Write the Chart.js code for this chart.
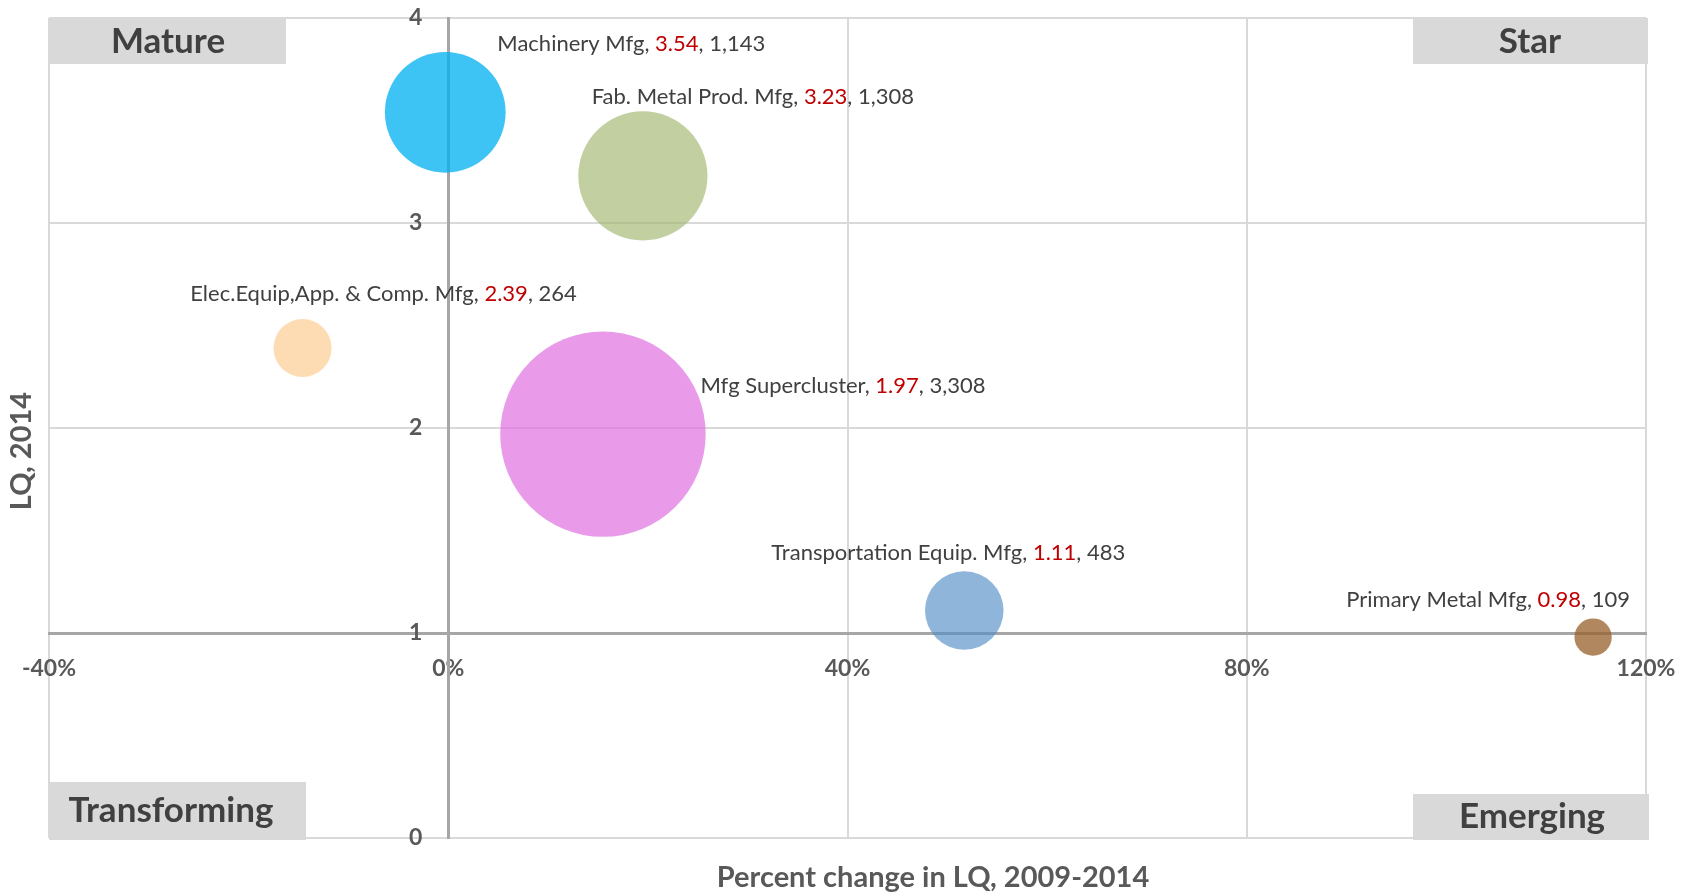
<!DOCTYPE html>
<html>
<head>
<meta charset="utf-8">
<script src="https://cdn.jsdelivr.net/npm/chart.js@4.4.1/dist/chart.umd.min.js"></script>
<style>
    html, body { margin: 0; padding: 0; background: #fff; }
    #wrap { width: 1696px; height: 893px; position: relative; }
</style>
</head>
<body>
<div id="wrap"><canvas id="lqChart"></canvas></div>
<script>
const industries = ['Machinery Mfg', 'Fab. Metal Prod. Mfg', 'Elec.Equip,App. & Comp. Mfg', 'Mfg Supercluster', 'Transportation Equip. Mfg', 'Primary Metal Mfg'];
const pctChange = [-0.3, 19.5, -14.6, 15.5, 51.7, 114.7];
const lq2014 = [3.54, 3.23, 2.39, 1.97, 1.11, 0.98];
const employment = [1143, 1308, 264, 3308, 483, 109];
const xTickValues = [-40, 0, 40, 80, 120];
const yTickValues = [0, 1, 2, 3, 4];
const quadrants = ['Mature', 'Star', 'Transforming', 'Emerging'];

const FONT = 'Lato';
const bubbleColors = [
    'rgba(0,176,240,0.76)',
    'rgba(160,181,110,0.65)',
    'rgba(252,196,128,0.6)',
    'rgba(224,112,224,0.7)',
    'rgba(85,142,199,0.65)',
    'rgba(150,95,40,0.75)'
];
const bubbleScale = 1.786;
// label centre offset from bubble centre, px
const labelOffsets = [[186, -68], [110, -79], [81, -54], [240, -48], [-16, -58], [-105, -37]];

const fmt = n => n.toLocaleString('en-US');

(()=>{
    const quadrantPlugin = {
        id: 'quadrants',
        beforeDatasetsDraw(chart) {
            const {ctx, chartArea: ca} = chart;
            const boxes = [
                {x: ca.left, y: ca.top, w: 237, h: 46, tx: ca.left + 119, ty: ca.top + 24},
                {x: ca.right + 2 - 235, y: ca.top, w: 235, h: 46, tx: ca.right - 116, ty: ca.top + 24},
                {x: ca.left, y: ca.bottom + 2 - 58, w: 257, h: 58, tx: ca.left + 122, ty: ca.bottom - 27},
                {x: ca.right + 3 - 236, y: ca.bottom + 2 - 46, w: 236, h: 46, tx: ca.right - 114, ty: ca.bottom - 21}
            ];
            ctx.save();
            ctx.font = 'bold 35px ' + FONT;
            ctx.textAlign = 'center';
            ctx.textBaseline = 'middle';
            boxes.forEach((b, i) => {
                ctx.fillStyle = '#d9d9d9';
                ctx.fillRect(b.x, b.y, b.w, b.h);
                ctx.fillStyle = '#404040';
                ctx.fillText(quadrants[i], b.tx, b.ty);
            });
            ctx.restore();
        },
        afterDatasetsDraw(chart) {
            const {ctx} = chart;
            const meta = chart.getDatasetMeta(0);
            ctx.save();
            ctx.font = '22px ' + FONT;
            ctx.textBaseline = 'middle';
            ctx.textAlign = 'left';
            meta.data.forEach((pt, i) => {
                const parts = [
                    [industries[i] + ', ', '#404040'],
                    [lq2014[i].toFixed(2), '#c00000'],
                    [', ' + fmt(employment[i]), '#404040']
                ];
                const total = parts.reduce((s, p) => s + ctx.measureText(p[0]).width, 0);
                let x = pt.x + labelOffsets[i][0] - total / 2;
                const y = pt.y + labelOffsets[i][1];
                parts.forEach(p => {
                    ctx.fillStyle = p[1];
                    ctx.fillText(p[0], x, y);
                    x += ctx.measureText(p[0]).width;
                });
            });
            ctx.restore();
        },
        afterDraw(chart) {
            const {ctx, chartArea: ca} = chart;
            ctx.save();
            ctx.fillStyle = '#595959';
            ctx.font = 'bold 29px ' + FONT;
            ctx.textAlign = 'center';
            ctx.textBaseline = 'middle';
            ctx.fillText('Percent change in LQ, 2009-2014', ca.left + 884, ca.bottom + 40);
            ctx.translate(22, ca.top + 433);
            ctx.rotate(-Math.PI / 2);
            ctx.fillText('LQ, 2014', 0, 0);
            ctx.restore();
        }
    };

    const el = document.querySelector('#lqChart');
    new Chart(el, {
        type: 'bubble',
        data: {
            datasets: [{
                label: 'Industries',
                data: industries.map((name, i) => ({x: pctChange[i], y: lq2014[i], r: Math.sqrt(employment[i]) * bubbleScale})),
                backgroundColor: bubbleColors,
                borderWidth: 0,
                hoverRadius: 0,
                clip: false
            }]
        },
        options: {
            responsive: true,
            maintainAspectRatio: false,
            animation: false,
            events: [],
            layout: {autoPadding: false, padding: {left: 49, right: 50, top: 18, bottom: 55}},
            plugins: {
                legend: {display: false},
                tooltip: {enabled: false}
            },
            scales: {
                x: {
                    type: 'linear',
                    position: {y: 1},
                    min: -40,
                    max: 120,
                    afterBuildTicks: axis => { axis.ticks = xTickValues.map(v => ({value: v})); },
                    afterFit: s => { s.height = 0; s.paddingLeft = 0; s.paddingRight = 0; },
                    grid: {
                        drawTicks: false,
                        lineWidth: 2,
                        color: c => c.tick && c.tick.value === 0 ? 'rgba(0,0,0,0)' : '#d9d9d9'
                    },
                    border: {color: '#a6a6a6', width: 3},
                    ticks: {
                        padding: 22,
                        color: '#595959',
                        font: {family: FONT, size: 23, weight: 'bold'},
                        callback: v => v + '%'
                    }
                },
                y: {
                    type: 'linear',
                    position: {x: 0},
                    min: 0,
                    max: 4,
                    afterBuildTicks: axis => { axis.ticks = yTickValues.map(v => ({value: v})); },
                    afterFit: s => { s.width = 0; s.paddingTop = 0; s.paddingBottom = 0; },
                    grid: {
                        drawTicks: false,
                        lineWidth: 2,
                        color: c => c.tick && c.tick.value === 1 ? 'rgba(0,0,0,0)' : '#d9d9d9'
                    },
                    border: {color: '#a6a6a6', width: 3},
                    ticks: {
                        color: '#595959',
                        font: {family: FONT, size: 23, weight: 'bold'},
                        callback: v => v + '\u2002\u2002\u2009'
                    }
                }
            }
        },
        plugins: [quadrantPlugin]
    });
})();
</script>
</body>
</html>
